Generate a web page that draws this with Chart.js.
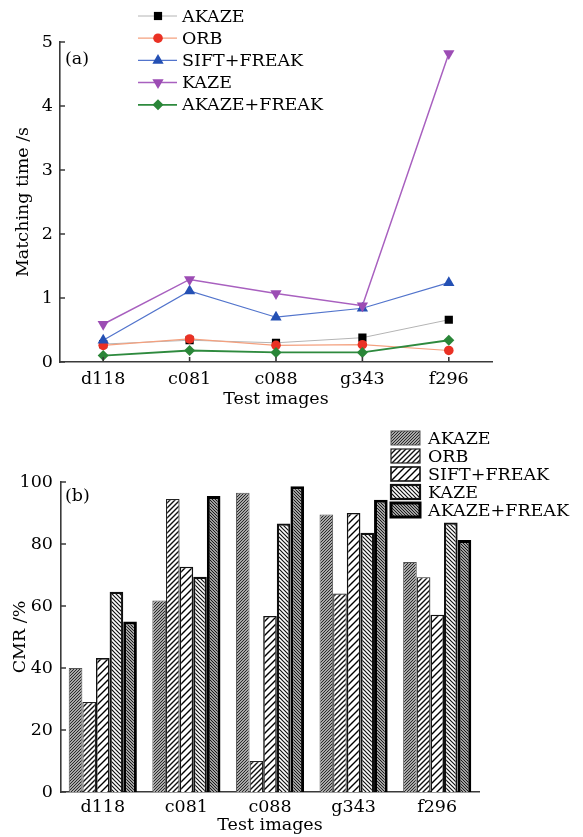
<!DOCTYPE html>
<html>
<head>
<meta charset="utf-8">
<script src="https://cdn.jsdelivr.net/npm/chart.js@4.4.1/dist/chart.umd.min.js"></script>
<style>
  body { margin: 0; background: #fff; }
  #wrap { position: relative; width: 583px; height: 837px; }
  #timeChart { position: absolute; left: 0; top: 0; }
  #cmrChart { position: absolute; left: 0; top: 410px; }
</style>
</head>
<body>
<div id="wrap">
  <canvas id="timeChart" width="583" height="410"></canvas>
  <canvas id="cmrChart" width="583" height="427"></canvas>
</div>
<script>
// test images and method names
const images = ["d118", "c081", "c088", "g343", "f296"];
const methods = ["AKAZE", "ORB", "SIFT+FREAK", "KAZE", "AKAZE+FREAK"];

// (a) matching time in seconds
const timeAkaze = [0.28, 0.34, 0.30, 0.38, 0.66];
const timeOrb = [0.26, 0.36, 0.26, 0.27, 0.18];
const timeSiftFreak = [0.34, 1.11, 0.70, 0.84, 1.24];
const timeKaze = [0.59, 1.29, 1.07, 0.88, 4.82];
const timeAkazeFreak = [0.10, 0.18, 0.15, 0.15, 0.34];
const timeTicks = [0, 1, 2, 3, 4, 5];

// (b) CMR in percent
const cmrAkaze = [40, 61.8, 96.5, 89.5, 74.2];
const cmrOrb = [29, 94.5, 10, 64, 69.3];
const cmrSiftFreak = [43.2, 72.7, 56.8, 90, 57.2];
const cmrKaze = [64.6, 69.4, 86.6, 83.6, 86.9];
const cmrAkazeFreak = [55, 95.5, 98.6, 94.3, 81.3];
const cmrTicks = [0, 20, 40, 60, 80, 100];

Chart.defaults.font.family = "'DejaVu Serif', serif";
Chart.defaults.font.size = 17.5;
Chart.defaults.color = "#000";
Chart.defaults.animation = false;

const FONT = "17.5px 'DejaVu Serif', serif";
const AXIS = "#3a3a3a";

// short inward tick marks, both charts have them
function innerTicks(withX) {
    return {
        id: "innerTicks",
        afterDraw(chart) {
            const { ctx, chartArea, scales } = chart;
            ctx.save();
            ctx.strokeStyle = AXIS;
            ctx.lineWidth = 1.6;
            ctx.beginPath();
            scales.y.ticks.forEach(t => {
                const y = scales.y.getPixelForValue(t.value);
                ctx.moveTo(chartArea.left, y);
                ctx.lineTo(chartArea.left + 5, y);
            });
            if (withX) {
                scales.x.ticks.forEach((t, i) => {
                    const x = scales.x.getPixelForTick(i);
                    ctx.moveTo(x, chartArea.bottom);
                    ctx.lineTo(x, chartArea.bottom - 5);
                });
            }
            ctx.stroke();
            ctx.restore();
        }
    };
}

function panelLabel(text, x, y) {
    return {
        id: "panelLabel",
        afterDraw(chart) {
            const ctx = chart.ctx;
            ctx.save();
            ctx.font = FONT;
            ctx.fillStyle = "#000";
            ctx.textBaseline = "middle";
            ctx.fillText(text, x, y);
            ctx.restore();
        }
    };
}

// line chart legend, drawn inside the plot like the figure
const lineLegend = {
    id: "lineLegend",
    afterDraw(chart) {
        const ctx = chart.ctx;
        ctx.save();
        chart.data.datasets.forEach((ds, i) => {
            const y = 16 + i * 22.2;
            ctx.strokeStyle = ds.borderColor;
            ctx.lineWidth = ds.borderWidth;
            ctx.beginPath();
            ctx.moveTo(138, y);
            ctx.lineTo(177, y);
            ctx.stroke();
            ctx.fillStyle = ds.pointBackgroundColor;
            ctx.strokeStyle = ds.pointBackgroundColor;
            Chart.helpers.drawPoint(ctx, {
                pointStyle: ds.pointStyle,
                rotation: ds.pointRotation || 0,
                radius: ds.pointRadius,
                borderWidth: 0
            }, 158, y);
            ctx.font = FONT;
            ctx.fillStyle = "#000";
            ctx.textBaseline = "middle";
            ctx.fillText(ds.label, 182, y + 1);
        });
        ctx.restore();
    }
};

// bar chart legend with hatched boxes
const barLegend = {
    id: "barLegend",
    afterDraw(chart) {
        const ctx = chart.ctx;
        ctx.save();
        chart.data.datasets.forEach((ds, i) => {
            const y = 28 + i * 18;
            ctx.fillStyle = ds.backgroundColor;
            ctx.fillRect(391, y - 7, 29, 14);
            ctx.strokeStyle = ds.borderColor;
            ctx.lineWidth = ds.borderWidth;
            ctx.strokeRect(391, y - 7, 29, 14);
            ctx.font = FONT;
            ctx.fillStyle = "#000";
            ctx.textBaseline = "middle";
            ctx.fillText(ds.label, 428, y + 1);
        });
        ctx.restore();
    }
};

const timeCtx = document.getElementById("timeChart");
new Chart(timeCtx, {
    type: "line",
    data: {
        labels: images,
        datasets: [
            { label: methods[0], data: timeAkaze, borderColor: "#b4b4b4", borderWidth: 1,
              pointStyle: "rect", pointRadius: 5.8, pointBackgroundColor: "#000", pointBorderWidth: 0, order: 5 },
            { label: methods[1], data: timeOrb, borderColor: "#f4a07e", borderWidth: 1.2,
              pointStyle: "circle", pointRadius: 4.8, pointBackgroundColor: "#ea3124", pointBorderWidth: 0, order: 4 },
            { label: methods[2], data: timeSiftFreak, borderColor: "#5274cc", borderWidth: 1.2,
              pointStyle: "triangle", pointRadius: 6.5, pointBackgroundColor: "#2450b4", pointBorderWidth: 0, order: 3 },
            { label: methods[3], data: timeKaze, borderColor: "#a860bf", borderWidth: 1.5,
              pointStyle: "triangle", pointRotation: 180, pointRadius: 6.5, pointBackgroundColor: "#9c4cb4", pointBorderWidth: 0, order: 2 },
            { label: methods[4], data: timeAkazeFreak, borderColor: "#2e8a3e", borderWidth: 1.8,
              pointStyle: "rectRot", pointRadius: 5.5, pointBackgroundColor: "#2a8638", pointBorderWidth: 0, order: 1 }
        ]
    },
    options: {
        responsive: false,
        maintainAspectRatio: false,
        layout: { padding: { left: 0, top: 42, right: 91, bottom: 0 } },
        plugins: { legend: { display: false }, tooltip: { enabled: false } },
        scales: {
            x: {
                offset: true,
                grid: { display: false, drawTicks: false },
                border: { display: true, color: AXIS, width: 1.6 },
                ticks: { padding: 7 },
                title: { display: true, text: "Test images", padding: 0 },
                afterFit: s => { s.height = 48; }
            },
            y: {
                min: 0,
                max: 5,
                afterBuildTicks: s => { s.ticks = timeTicks.map(v => ({ value: v })); },
                grid: { display: false, drawTicks: false },
                border: { display: true, color: AXIS, width: 1.6 },
                ticks: { padding: 7 },
                title: { display: true, text: "Matching time /s", padding: { top: 13, bottom: 0 } },
                afterFit: s => { s.width = 60; }
            }
        }
    },
    plugins: [innerTicks(true), lineLegend, panelLabel("(a)", 65, 59)]
});

const cmrCanvas = document.getElementById("cmrChart");
const cmrCtx = cmrCanvas.getContext("2d");

function hatch(size, width, line, bg, back) {
    const c = document.createElement("canvas");
    c.width = size;
    c.height = size;
    const g = c.getContext("2d");
    g.fillStyle = bg;
    g.fillRect(0, 0, size, size);
    g.strokeStyle = line;
    g.lineWidth = width;
    g.beginPath();
    if (!back) {
        g.moveTo(-1, size + 1); g.lineTo(size + 1, -1);
        g.moveTo(-1, 1); g.lineTo(1, -1);
        g.moveTo(size - 1, size + 1); g.lineTo(size + 1, size - 1);
    } else {
        g.moveTo(-1, -1); g.lineTo(size + 1, size + 1);
        g.moveTo(size - 1, -1); g.lineTo(size + 1, 1);
        g.moveTo(-1, size - 1); g.lineTo(1, size + 1);
    }
    g.stroke();
    return cmrCtx.createPattern(c, "repeat");
}

new Chart(cmrCanvas, {
    type: "bar",
    data: {
        labels: images,
        datasets: [
            { label: methods[0], data: cmrAkaze, backgroundColor: hatch(3, 1, "#2a2a2a", "#a8a8a8", false), borderColor: "#555", borderWidth: 1 },
            { label: methods[1], data: cmrOrb, backgroundColor: hatch(5, 1.4, "#111", "#fff", false), borderColor: "#222", borderWidth: 1.2 },
            { label: methods[2], data: cmrSiftFreak, backgroundColor: hatch(7, 1.4, "#000", "#fff", false), borderColor: "#111", borderWidth: 1.6 },
            { label: methods[3], data: cmrKaze, backgroundColor: hatch(4, 1.2, "#111", "#fff", true), borderColor: "#111", borderWidth: 2.2 },
            { label: methods[4], data: cmrAkazeFreak, backgroundColor: hatch(3, 1, "#1a1a1a", "#a0a0a0", true), borderColor: "#000", borderWidth: 3 }
        ]
    },
    options: {
        responsive: false,
        maintainAspectRatio: false,
        layout: { padding: { left: 0, top: 72, right: 104, bottom: 1 } },
        plugins: { legend: { display: false }, tooltip: { enabled: false } },
        datasets: { bar: { categoryPercentage: 0.815, barPercentage: 1.0 } },
        scales: {
            x: {
                offset: true,
                grid: { display: false, drawTicks: false },
                border: { display: true, color: AXIS, width: 1.6 },
                ticks: { padding: 5 },
                title: { display: true, text: "Test images", padding: 0 },
                afterFit: s => { s.height = 44; }
            },
            y: {
                min: 0,
                max: 100,
                afterBuildTicks: s => { s.ticks = cmrTicks.map(v => ({ value: v })); },
                grid: { display: false, drawTicks: false },
                border: { display: true, color: AXIS, width: 1.6 },
                ticks: { padding: 8 },
                title: { display: true, text: "CMR /%", padding: { top: 10, bottom: 0 } },
                afterFit: s => { s.width = 61; }
            }
        }
    },
    plugins: [innerTicks(false), barLegend, panelLabel("(b)", 65, 86)]
});
</script>
</body>
</html>
